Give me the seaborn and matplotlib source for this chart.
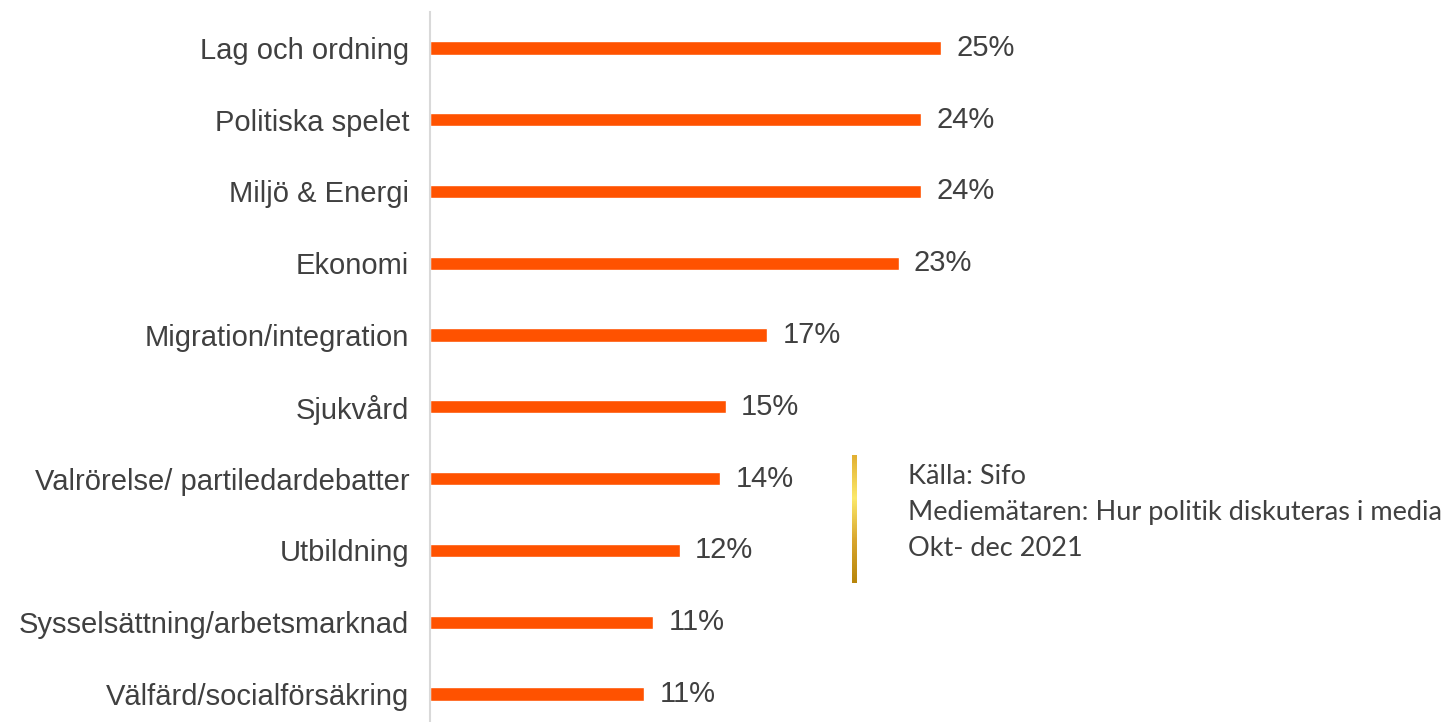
import numpy as np
import pandas as pd
import matplotlib.pyplot as plt
import seaborn as sns

# data
categories = ['Lag och ordning', 'Politiska spelet', 'Miljö & Energi', 'Ekonomi',
              'Migration/integration', 'Sjukvård', 'Valrörelse/ partiledardebatter',
              'Utbildning', 'Sysselsättning/arbetsmarknad', 'Välfärd/socialförsäkring']
values = [25.3, 24.3, 24.3, 23.2, 16.7, 14.65, 14.36, 12.36, 11.04, 10.6]
source_lines = ['Källa: Sifo',
                'Mediemätaren: Hur politik diskuteras i media',
                'Okt- dec 2021']

sns.set_style('white')
plt.rcParams['font.family'] = ['Liberation Sans', 'DejaVu Sans']

df = pd.DataFrame({'kategori': categories, 'andel': values})

fig = plt.figure(figsize=(14.52, 7.22), dpi=100)
ax = fig.add_axes([430 / 1452, 0, 1010 / 1452, 1 - 12 / 722])

sns.barplot(data=df, x='andel', y='kategori', orient='h', color='#FF5200',
            saturation=1, width=0.185, ax=ax)

ax.bar_label(ax.containers[0], labels=[f'{v:.0f}%' for v in values],
             padding=11, fontsize=21, color='#404040')

ax.set_xlim(0, 50)
ax.set_ylim(9.39, -0.5)
ax.set_xlabel('')
ax.set_ylabel('')
ax.set_xticks([])
ax.tick_params(axis='y', length=0, pad=15, labelsize=21, labelcolor='#404040')

for side in ['top', 'right', 'bottom']:
    ax.spines[side].set_visible(False)
ax.spines['left'].set_color('#d9d9d9')
ax.spines['left'].set_linewidth(1.5)

# gold gradient bar next to source text
gold = plt.matplotlib.colors.LinearSegmentedColormap.from_list(
    'gold', ['#E2B032', '#FCE96A', '#D9A62E', '#B8860B'])
gax = fig.add_axes([852 / 1452, 1 - 583 / 722, 5 / 1452, 128 / 722])
gax.imshow(np.linspace(0, 1, 100).reshape(-1, 1), aspect='auto', cmap=gold)
gax.axis('off')

for i, line in enumerate(source_lines):
    fig.text(908 / 1452, 1 - (476 + i * 36.5) / 722, line, fontsize=19.5,
             family=['Lato', 'DejaVu Sans'], color='#404040', va='center', ha='left')

fig.savefig('out.png', dpi=100)
